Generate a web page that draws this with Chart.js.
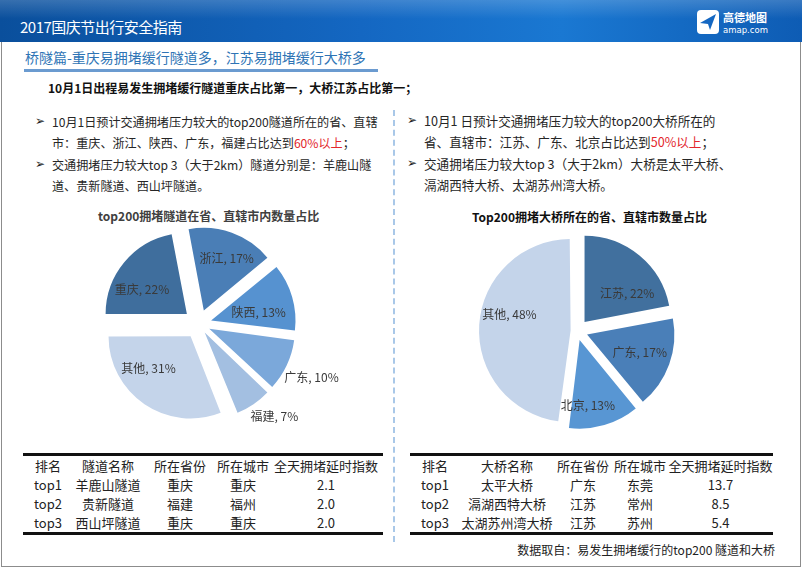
<!DOCTYPE html>
<html>
<head>
<meta charset="utf-8">
<script src="https://cdn.jsdelivr.net/npm/chart.js@4.4.1/dist/chart.umd.min.js"></script>
<style>
  html, body { margin: 0; padding: 0; background: #fff; }
  body { width: 802px; height: 569px; position: relative; overflow: hidden;
         font-family: "Noto Sans CJK SC", "Noto Sans", sans-serif; color: #262626; }
  .abs { position: absolute; }
  #header { left: 0; top: 0; width: 802px; height: 42px;
            background: linear-gradient(180deg, rgba(255,255,255,0.18) 0%, rgba(255,255,255,0) 45%),
                        linear-gradient(90deg, #0a4f9c 0%, #1467c2 45%, #1a78d2 70%, #0e5cb4 100%); }
  #header .t { left: 20px; top: 17px; color: #fff; font-size: 15px; line-height: 20px; letter-spacing: -0.5px; }
  #sub { left: 25px; top: 46px; color: #2e74b5; font-size: 14px; line-height: 22px; }
  #subline { left: 24px; top: 69px; width: 354px; height: 3px; background: #6b9bd0; }
  #frame { left: 1px; top: 40px; width: 798px; height: 526px; border: 1px solid #8c8c8c; border-top: none; }
  #lead { left: 48px; top: 79px; font-size: 12px; font-weight: bold; color: #111; line-height: 18px; white-space: nowrap; }
  .bul { line-height: 21.3px; white-space: nowrap; color: #262626; }
  .bul div { position: relative; padding-left: 17px; }
  .bul div::before { content: "\27A2"; position: absolute; left: 0; top: 0; font-family: "DejaVu Sans"; font-size: 12px; color: #222; }
  .red { color: #e3262b; }
  #divider { left: 393px; top: 110px; width: 0; height: 432px; border-left: 2px dashed #a9c8e8; }
  .ctitle { font-size: 12px; font-weight: bold; white-space: nowrap; line-height: 16px; }
  table.rk { position: absolute; border-collapse: collapse; table-layout: fixed;
             border-top: 3px solid #111; border-bottom: 3px solid #111; font-size: 13px; color: #222; }
  table.rk td { text-align: center; padding: 0; height: 19px; line-height: 19px; white-space: nowrap; }
  #foot { right: 27px; top: 541px; font-size: 12px; line-height: 18px; color: #222; white-space: nowrap; }
</style>
</head>
<body>
<div id="frame" class="abs"></div>
<div id="header" class="abs">
  <div class="t abs">2017国庆节出行安全指南</div>
  <svg class="abs" style="left:697px;top:9px" width="90" height="28">
    <rect x="0" y="1" width="22" height="24" rx="4" fill="#fff"/>
    <path d="M3 14 L19 5 L13 21 L11 15 Z" fill="#1467c2"/>
    <text x="26" y="13" fill="#fff" font-size="11" font-weight="bold" font-family="Noto Sans CJK SC">高德地图</text>
    <text x="26" y="24" fill="#fff" font-size="8.5" font-family="DejaVu Sans">amap.com</text>
  </svg>
</div>
<div id="sub" class="abs">桥隧篇-重庆易拥堵缓行隧道多，江苏易拥堵缓行大桥多</div>
<div id="subline" class="abs"></div>
<div id="lead" class="abs">10月1日出程易发生拥堵缓行隧道重庆占比第一，大桥江苏占比第一；</div>

<div class="bul abs" style="left:35px;top:111px;font-size:12.1px">
  <div>10月1日预计交通拥堵压力较大的top200隧道所在的省、直辖<br>市：重庆、浙江、陕西、广东，福建占比达到<span class="red">60%以上</span>；</div>
  <div>交通拥堵压力较大top 3（大于2km）隧道分别是：羊鹿山隧<br>道、贵新隧道、西山坪隧道。</div>
</div>
<div class="bul abs" style="left:407px;top:110px;font-size:12.6px">
  <div>10月1 日预计交通拥堵压力较大的top200大桥所在的<br>省、直辖市：江苏、广东、北京占比达到<span class="red">50%以上</span>；</div>
  <div>交通拥堵压力较大top 3（大于2km）大桥是太平大桥、<br>滆湖西特大桥、太湖苏州湾大桥。</div>
</div>
<div id="divider" class="abs"></div>

<div class="ctitle abs" style="left:98px;top:208px;color:#404040">top200拥堵隧道在省、直辖市内数量占比</div>
<div class="ctitle abs" style="left:472px;top:209px;color:#111">Top200拥堵大桥所在的省、直辖市数量占比</div>

<div class="abs" style="left:49px;top:204px;width:300px;height:240px"><canvas id="tunnelPie"></canvas></div>
<div class="abs" style="left:447px;top:221px;width:260px;height:220px"><canvas id="bridgePie"></canvas></div>

<table class="rk" id="tunnelTable" style="left:23px;top:453px;width:360px">
  <colgroup><col style="width:50px"><col style="width:70px"><col style="width:74px"><col style="width:52px"><col style="width:114px"></colgroup>
</table>
<table class="rk" id="bridgeTable" style="left:410px;top:453px;width:363px">
  <colgroup><col style="width:50px"><col style="width:94px"><col style="width:58px"><col style="width:56px"><col style="width:105px"></colgroup>
</table>

<div id="foot" class="abs">数据取自：易发生拥堵缓行的top200 隧道和大桥</div>

<script>
// pie data
const tunnelProvinces = ["重庆", "浙江", "陕西", "广东", "福建", "其他"];
const tunnelShares = [22, 17, 13, 10, 7, 31];
const bridgeProvinces = ["江苏", "广东", "北京", "其他"];
const bridgeShares = [22, 17, 13, 48];

// ranking tables
const tableHead = ["排名", "", "所在省份", "所在城市", "全天拥堵延时指数"];
const ranks = ["top1", "top2", "top3"];
const tunnelNames = ["羊鹿山隧道", "贵新隧道", "西山坪隧道"];
const tunnelProv = ["重庆", "福建", "重庆"];
const tunnelCity = ["重庆", "福州", "重庆"];
const tunnelIndex = [2.1, 2.0, 2.0];
const bridgeNames = ["太平大桥", "滆湖西特大桥", "太湖苏州湾大桥"];
const bridgeProv = ["广东", "江苏", "江苏"];
const bridgeCity = ["东莞", "常州", "苏州"];
const bridgeIndex = [13.7, 8.5, 5.4];

const tunnelColors = ["#3f6e9d", "#4a7eb6", "#5692d0", "#7ba8da", "#a3bfe1", "#c4d4ea"];
const bridgeColors = ["#41709e", "#4a7fb8", "#5896d3", "#c4d4ea"];

function fillTable(id, nameHead, names, prov, city, idx) {
  const t = document.getElementById(id);
  const head = tableHead.slice();
  head[1] = nameHead;
  const rows = [head].concat(ranks.map((r, i) => [r, names[i], prov[i], city[i], idx[i].toFixed(1)]));
  rows.forEach((r, ri) => {
    const tr = t.insertRow();
    r.forEach((c) => { const td = tr.insertCell(); td.textContent = c; });
    if (ri === 0) tr.style.height = "20px";
  });
}
fillTable("tunnelTable", "隧道名称", tunnelNames, tunnelProv, tunnelCity, tunnelIndex);
fillTable("bridgeTable", "大桥名称", bridgeNames, bridgeProv, bridgeCity, bridgeIndex);

// draws "name, x%" for every slice; place = [position within slice angle, distance / radius]
const sliceLabels = {
  id: "sliceLabels",
  afterDatasetsDraw(chart, args, opts) {
    const ctx = chart.ctx;
    const meta = chart.getDatasetMeta(0);
    const vals = chart.data.datasets[0].data;
    ctx.save();
    ctx.font = '12px "Noto Sans CJK SC", sans-serif';
    ctx.fillStyle = "#3a3a3a";
    ctx.textAlign = "center";
    ctx.textBaseline = "middle";
    meta.data.forEach((arc, i) => {
      const p = opts.place[i];
      const a = arc.startAngle + (arc.endAngle - arc.startAngle) * p[0];
      const d = arc.outerRadius * p[1];
      ctx.fillText(chart.data.labels[i] + ", " + vals[i] + "%", arc.x + Math.cos(a) * d, arc.y + Math.sin(a) * d);
    });
    ctx.restore();
  },
};

// Chart.js v4 arcs move by offset/4 * (2 - sin(sweep)); scale so every slice moves by `px`
function explode(px) {
  return (c) => {
    const vals = c.dataset.data;
    const total = vals.reduce((s, v) => s + v, 0);
    const sweep = (vals[c.dataIndex] / total) * Math.PI * 2;
    return (4 * px) / (2 - Math.sin(Math.min(Math.PI, sweep)));
  };
}

function pie(id, labels, values, colors, opts) {
  return new Chart(document.getElementById(id), {
    type: "pie",
    data: {
      labels: labels,
      datasets: [{ data: values, backgroundColor: colors, borderWidth: 0, offset: explode(opts.offset) }],
    },
    options: {
      responsive: true,
      maintainAspectRatio: false,
      animation: false,
      rotation: opts.rotation,
      radius: opts.radius,
      layout: { padding: 0 },
      events: [],
      plugins: {
        legend: { display: false },
        tooltip: { enabled: false },
        sliceLabels: { place: opts.place },
      },
    },
    plugins: [sliceLabels],
  });
}

pie("tunnelPie", tunnelProvinces, tunnelShares, tunnelColors, {
  rotation: 270, radius: 81, offset: 16,
  place: [[0.39, 0.82], [0.55, 0.88], [0.62, 0.75], [0.51, 1.54], [0.30, 1.47], [0.63, 0.83]],
});
pie("bridgePie", bridgeProvinces, bridgeShares, bridgeColors, {
  rotation: 0, radius: 86, offset: 12,
  place: [[0.67, 0.73], [0.48, 0.77], [0.67, 0.88], [0.56, 0.81]],
});
</script>
</body>
</html>
